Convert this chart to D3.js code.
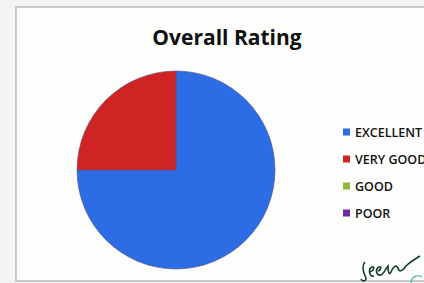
<!DOCTYPE html>
<html>
<head>
<meta charset="utf-8">
<script src="https://cdn.jsdelivr.net/npm/d3@7"></script>
<style>
  body { margin: 0; background: #f4f4f2; }
  svg { display: block; }
</style>
</head>
<body>
<div id="chart"></div>
<script>
var width = 424,
    height = 283;

// data
var categories = ["EXCELLENT", "VERY GOOD", "GOOD", "POOR"];
var values = [75, 25, 0, 0];
var colors = ["#2c6de6", "#cf2424", "#8fba3c", "#6b2ca3"];

var cx = 176, cy = 170, radius = 99;

var svg = d3.select("#chart")
  .append("svg")
  .attr("width", width)
  .attr("height", height);

// chart frame
svg.append("rect")
  .attr("x", 16)
  .attr("y", 7)
  .attr("width", 440)
  .attr("height", 274)
  .style("fill", "#fdfdfc")
  .style("stroke", "#9a9a9a")
  .style("stroke-width", "1px");

// title
svg.append("text")
  .attr("x", 227)
  .attr("y", 45)
  .attr("text-anchor", "middle")
  .style("font-family", "'Open Sans', sans-serif")
  .style("font-weight", "bold")
  .style("font-size", "21px")
  .style("fill", "#111")
  .text("Overall Rating");

var color = d3.scaleOrdinal().domain(categories).range(colors);

var pie = d3.pie().sort(null).value(function(d) { return d.value; });
var arc = d3.arc().innerRadius(0).outerRadius(radius);

var data = categories.map(function(c, i) { return { name: c, value: values[i] }; });

svg.append("g")
  .attr("transform", "translate(" + cx + "," + cy + ")")
  .selectAll("path")
  .data(pie(data).filter(function(d) { return d.value > 0; }))
  .enter().append("path")
  .attr("d", arc)
  .style("fill", function(d) { return color(d.data.name); })
  .style("stroke", "#5a4f7a")
  .style("stroke-width", "0.6px");

// legend
var legendY = d3.scalePoint()
  .domain(categories)
  .range([132, 213]);

var legend = svg.append("g")
  .selectAll("g")
  .data(categories)
  .enter().append("g")
  .attr("transform", function(d) { return "translate(343," + legendY(d) + ")"; });

legend.append("rect")
  .attr("x", 0)
  .attr("y", -3.5)
  .attr("width", 7)
  .attr("height", 7)
  .style("fill", function(d) { return color(d); });

legend.append("text")
  .attr("x", 12)
  .attr("y", 5)
  .style("font-family", "'Open Sans', sans-serif")
  .style("font-weight", "600")
  .style("font-size", "12.5px")
  .style("fill", "#111")
  .text(function(d) { return d; });

// handwritten mark at the bottom right
svg.append("path")
  .attr("d", "M365,262 C361,266 363,272 366,278 C367,281 362,282 361,279 M370,272 C374,271 375,266 372,267 C368,269 369,277 374,276 M378,271 C381,270 382,266 379,267 C375,269 376,276 381,275 C384,274 386,268 388,266 C388,272 389,276 391,272 C393,267 396,264 398,268 C399,272 402,272 406,266 C410,262 415,259 420,256")
  .style("fill", "none")
  .style("stroke", "#12402c")
  .style("stroke-width", "1.6px");

svg.append("path")
  .attr("d", "M411,283 C411,277 417,274 422,277")
  .style("fill", "none")
  .style("stroke", "#3fb8a8")
  .style("stroke-width", "1.2px");
</script>
</body>
</html>
